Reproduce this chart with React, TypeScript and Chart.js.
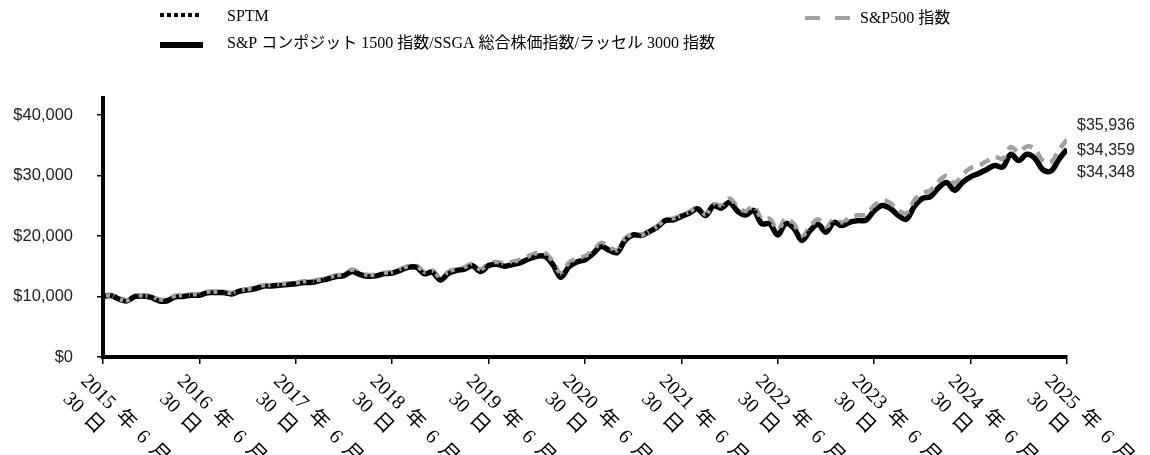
import React, { useEffect, useRef } from "react";
import { Chart, registerables } from "chart.js";

Chart.register(...registerables);

// Month index 0 = 2015-06-30 ... 120 = 2025-06-30
const TICK_MONTHS = [0, 12, 24, 36, 48, 60, 72, 84, 96, 108, 120];
const X_TICK_LABELS = [
  "2015 年 6 月 30 日",
  "2016 年 6 月 30 日",
  "2017 年 6 月 30 日",
  "2018 年 6 月 30 日",
  "2019 年 6 月 30 日",
  "2020 年 6 月 30 日",
  "2021 年 6 月 30 日",
  "2022 年 6 月 30 日",
  "2023 年 6 月 30 日",
  "2024 年 6 月 30 日",
  "2025 年 6 月 30 日",
];
const Y_TICKS = [0, 10000, 20000, 30000, 40000];

const SERIES_NAMES = [
  "SPTM",
  "S&P500 指数",
  "S&P コンポジット 1500 指数/SSGA 総合株価指数/ラッセル 3000 指数",
];

const SP500 = [
  10000, 10210, 9594, 9357, 10147, 10177, 10016, 9519, 9507, 10152, 10192, 10375, 10402,
  10786, 10801, 10803, 10606, 10999, 11217, 11430, 11884, 11898, 12021, 12190, 12266,
  12519, 12558, 12816, 13115, 13518, 13668, 14451, 13918, 13564, 13616, 13944, 14030,
  14552, 15026, 15112, 14078, 14365, 13068, 14115, 14568, 14851, 15452, 14471, 15491,
  15714, 15466, 15755, 16097, 16681, 17185, 17178, 15764, 13817, 15588, 16330, 16655,
  17594, 18859, 18143, 17660, 19594, 20346, 20141, 20697, 21603, 22757, 22916, 23450,
  24008, 24738, 23588, 25241, 25067, 26190, 24836, 24094, 24988, 22809, 22850, 20965,
  22898, 21964, 19941, 21556, 22761, 21450, 22797, 22241, 23057, 23417, 23518, 25073,
  25878, 25466, 24251, 23742, 25910, 27086, 27541, 29012, 29946, 28724, 30149, 31231,
  31612, 32380, 33073, 32772, 34696, 33870, 34812, 34359, 32425, 32204, 34230, 35936,
];

const COMPOSITE = [
  10000, 10167, 9553, 9275, 10008, 10063, 9857, 9301, 9298, 9953, 10015, 10194, 10216,
  10622, 10650, 10667, 10431, 10895, 11107, 11316, 11736, 11744, 11868, 11987, 12095,
  12321, 12344, 12645, 12921, 13309, 13443, 14151, 13629, 13352, 13405, 13781, 13871,
  14330, 14826, 14851, 13758, 14033, 12727, 13819, 14298, 14518, 15093, 14113, 15104,
  15326, 15013, 15277, 15602, 16195, 16658, 16640, 15277, 13177, 14921, 15719, 16079,
  17074, 18310, 17646, 17263, 19321, 20186, 20102, 20721, 21473, 22581, 22688, 23249,
  23810, 24498, 23398, 24994, 24612, 25581, 24072, 23465, 24225, 22045, 22012, 20170,
  22063, 21244, 19275, 20840, 21932, 20647, 22242, 21724, 22304, 22539, 22634, 24180,
  25045, 24562, 23393, 22773, 24899, 26221, 26513, 27947, 28850, 27581, 28882, 29778,
  30341, 30999, 31640, 31413, 33502, 32477, 33506, 32862, 30947, 30737, 32686, 34348,
];

const SPTM = [
  10000, 10165, 9550, 9271, 10004, 10060, 9852, 9296, 9295, 9950, 10012, 10190, 10213,
  10620, 10648, 10664, 10427, 10892, 11104, 11314, 11733, 11741, 11866, 11985, 12093,
  12320, 12343, 12644, 12920, 13308, 13442, 14150, 13628, 13351, 13404, 13780, 13870,
  14330, 14826, 14850, 13757, 14033, 12726, 13818, 14298, 14518, 15093, 14113, 15104,
  15326, 15014, 15278, 15603, 16196, 16659, 16641, 15278, 13178, 14922, 15720, 16080,
  17075, 18311, 17647, 17264, 19322, 20187, 20103, 20722, 21474, 22582, 22689, 23250,
  23811, 24499, 23399, 24995, 24613, 25582, 24073, 23466, 24226, 22046, 22013, 20171,
  22064, 21245, 19276, 20841, 21933, 20648, 22243, 21725, 22305, 22540, 22635, 24181,
  25046, 24563, 23394, 22774, 24900, 26222, 26514, 27948, 28851, 27582, 28883, 29779,
  30342, 31000, 31641, 31414, 33504, 32479, 33508, 32865, 30951, 30743, 32694, 34359,
];

const SERIF = '"Liberation Serif", "Noto Sans CJK JP", serif';
const SANS = '"Liberation Sans", Arial, sans-serif';

const fmt = (v: number) => "$" + Math.round(v).toLocaleString("en-US");

const toXY = (arr: number[]) => arr.map((v, i) => ({ x: i, y: v }));

const overlayPlugin = {
  id: "overlay",
  afterDraw(chart: any) {
    const ctx = chart.ctx as CanvasRenderingContext2D;
    const xs = chart.scales.x;
    const ys = chart.scales.y;
    ctx.save();

    // Legend
    ctx.textBaseline = "middle";
    ctx.textAlign = "left";
    ctx.font = "16px " + SERIF;
    ctx.fillStyle = "#000";
    // SPTM dotted
    ctx.strokeStyle = "#000";
    ctx.lineWidth = 4;
    ctx.setLineDash([4, 3]);
    ctx.beginPath();
    ctx.moveTo(160, 15);
    ctx.lineTo(202, 15);
    ctx.stroke();
    ctx.fillText(SERIES_NAMES[0], 227, 17);
    // S&P500 dashed gray
    ctx.strokeStyle = "#a0a0a0";
    ctx.lineWidth = 4;
    ctx.setLineDash([15, 15]);
    ctx.beginPath();
    ctx.moveTo(805, 18);
    ctx.lineTo(850, 18);
    ctx.stroke();
    ctx.fillText(SERIES_NAMES[1], 860, 19);
    // Composite solid
    ctx.setLineDash([]);
    ctx.strokeStyle = "#000";
    ctx.lineWidth = 6;
    ctx.beginPath();
    ctx.moveTo(160, 45);
    ctx.lineTo(203, 45);
    ctx.stroke();
    ctx.fillText(SERIES_NAMES[2], 227, 44);

    // X tick labels (rotated 45° clockwise, two lines)
    ctx.font = "20px " + SERIF;
    (ctx as any).wordSpacing = "4px";
    ctx.textBaseline = "alphabetic";
    ctx.fillStyle = "#000";
    TICK_MONTHS.forEach((m, i) => {
      const px = xs.getPixelForValue(m);
      const label = X_TICK_LABELS[i];
      const match = label.match(/^(.*月)\s*(.*)$/);
      const l1 = match ? match[1] : label;
      const l2 = match ? match[2] : "";
      ctx.save();
      ctx.translate(px - 23, 382);
      ctx.rotate(Math.PI / 4);
      ctx.fillText(l1, 0, 0);
      ctx.fillText(l2, 0, 25);
      ctx.restore();
    });
    (ctx as any).wordSpacing = "0px";

    // End value labels
    ctx.font = "16px " + SANS;
    ctx.fillStyle = "#222";
    ctx.textBaseline = "middle";
    const last = SP500.length - 1;
    const lx = xs.getPixelForValue(last) + 10;
    const ySp = ys.getPixelForValue(SP500[last]);
    const ySptm = ys.getPixelForValue(SPTM[last]);
    const yComp = ys.getPixelForValue(COMPOSITE[last]);
    ctx.fillText(fmt(SP500[last]), lx, ySp - 14);
    ctx.fillText(fmt(SPTM[last]), lx, ySptm + 1);
    ctx.fillText(fmt(COMPOSITE[last]), lx, yComp + 23);

    ctx.restore();
  },
};

export default function App() {
  const ref = useRef<HTMLCanvasElement | null>(null);

  useEffect(() => {
    document.body.style.margin = "0";
    const canvas = ref.current;
    if (!canvas) return;
    const chart = new Chart(canvas, {
      type: "line",
      data: {
        datasets: [
          {
            label: SERIES_NAMES[2],
            data: toXY(COMPOSITE),
            borderColor: "#000",
            borderWidth: 5.5,
            pointRadius: 0,
            tension: 0.35,
            fill: false,
            order: 3,
          },
          {
            label: SERIES_NAMES[1],
            data: toXY(SP500),
            borderColor: "#a0a0a0",
            borderWidth: 4.5,
            borderDash: [11, 7],
            pointRadius: 0,
            tension: 0.35,
            fill: false,
            order: 2,
          },
          {
            label: SERIES_NAMES[0],
            data: toXY(SPTM),
            borderColor: "#000",
            borderWidth: 4,
            borderDash: [3, 4],
            pointRadius: 0,
            tension: 0.35,
            fill: false,
            order: 1,
          },
        ],
      },
      options: {
        responsive: false,
        animation: false,
        devicePixelRatio: 1,
        layout: { padding: { left: 0, right: 83, top: 98, bottom: 0 } },
        plugins: {
          legend: { display: false },
          tooltip: { enabled: false },
          title: { display: false },
        },
        scales: {
          x: {
            type: "linear",
            min: 0,
            max: 120,
            afterBuildTicks: (scale: any) => {
              scale.ticks = TICK_MONTHS.map((v) => ({ value: v }));
            },
            afterFit: (scale: any) => {
              scale.height = 98;
            },
            ticks: { display: false },
            grid: {
              display: true,
              drawOnChartArea: false,
              drawTicks: true,
              tickLength: 7,
              color: "#000",
              lineWidth: 1.5,
            },
            border: { display: true, color: "#000", width: 4 },
          },
          y: {
            type: "linear",
            min: 0,
            max: 42810,
            afterBuildTicks: (scale: any) => {
              scale.ticks = Y_TICKS.map((v) => ({ value: v }));
            },
            afterFit: (scale: any) => {
              scale.width = 103;
            },
            ticks: {
              padding: 24,
              color: "#222",
              font: { family: SANS, size: 16.5 },
              callback: (v: any) => fmt(Number(v)),
            },
            grid: {
              display: true,
              drawOnChartArea: false,
              drawTicks: true,
              tickLength: 6,
              color: "#000",
              lineWidth: 1.5,
            },
            border: { display: true, color: "#000", width: 4 },
          },
        },
      },
      plugins: [overlayPlugin],
    });
    return () => chart.destroy();
  }, []);

  return (
    <div style={{ width: 1150, height: 455, position: "relative", background: "#fff" }}>
      <canvas ref={ref} width={1150} height={455} style={{ width: 1150, height: 455, display: "block" }} />
    </div>
  );
}
